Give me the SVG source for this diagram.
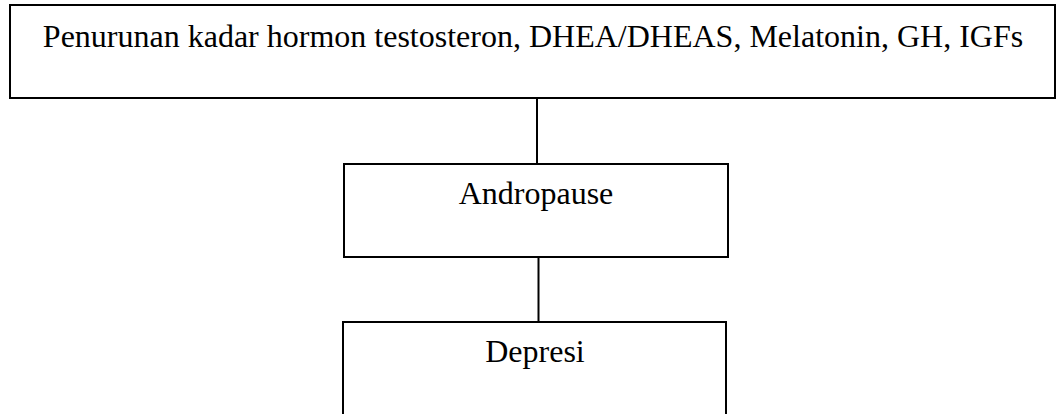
<svg xmlns="http://www.w3.org/2000/svg" width="1056" height="414" viewBox="0 0 1056 414">
<style>
.box{fill:#fff;stroke:#000;stroke-width:2}
.lbl{font-family:"Liberation Serif","Times New Roman",serif;font-size:32px;fill:#000;text-anchor:middle}
.conn{stroke:#000;stroke-width:2;fill:none}
</style>
<rect width="1056" height="414" fill="#fff"/>
<g id="connectors">
<line class="conn" x1="537" y1="98" x2="537" y2="164"/>
<line class="conn" x1="538.5" y1="257" x2="538.5" y2="322"/>
</g>
<g id="node-hormon">
<rect class="box" x="10" y="5" width="1045" height="93"/>
<text class="lbl" x="533" y="47">Penurunan kadar hormon testosteron, DHEA/DHEAS, Melatonin, GH, IGFs</text>
</g>
<g id="node-andropause">
<rect class="box" x="344" y="164" width="384" height="93"/>
<text class="lbl" x="536" y="204">Andropause</text>
</g>
<g id="node-depresi">
<rect class="box" x="343" y="322" width="383" height="100"/>
<text class="lbl" x="535" y="362">Depresi</text>
</g>
</svg>
